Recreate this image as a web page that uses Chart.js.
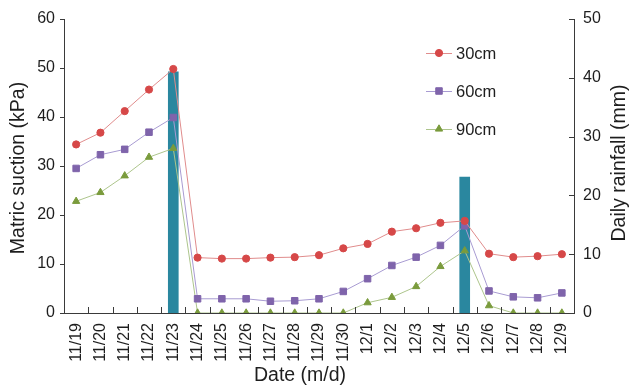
<!DOCTYPE html>
<html>
<head>
<meta charset="utf-8">
<script src="https://cdn.jsdelivr.net/npm/chart.js@4/dist/chart.umd.min.js"></script>
<style>
  html, body { margin: 0; padding: 0; background: #fff; }
  #wrap { width: 633px; height: 387px; position: relative; }
</style>
</head>
<body>
<div id="wrap"><canvas id="c"></canvas></div>
<script>
// Observation dates (month/day)
const dates = ['11/19','11/20','11/21','11/22','11/23','11/24','11/25','11/26','11/27','11/28',
               '11/29','11/30','12/1','12/2','12/3','12/4','12/5','12/6','12/7','12/8','12/9'];

// Matric suction (kPa) at three depths
const suction30 = [34.4, 36.8, 41.2, 45.6, 49.8, 11.3, 11.1, 11.1, 11.3, 11.4, 11.8,
                   13.2, 14.1, 16.6, 17.3, 18.4, 18.8, 12.1, 11.4, 11.6, 12.0];
const suction60 = [29.5, 32.3, 33.4, 36.9, 39.9, 2.9, 2.9, 2.9, 2.4, 2.5, 2.9,
                   4.4, 7.0, 9.7, 11.4, 13.8, 17.8, 4.5, 3.3, 3.1, 4.1];
const suction90 = [22.8, 24.6, 28.0, 31.8, 33.6, 0, 0, 0, 0, 0, 0,
                   0, 2.1, 3.2, 5.4, 9.5, 12.7, 1.5, 0, 0, 0];

// Daily rainfall (mm)
const rainfall = [null, null, null, null, 41.0, null, null, null, null, null, null,
                  null, null, null, null, null, 23.1, null, null, null, null];

// Axis ranges and steps
const suctionAxis = { min: 0, max: 60, step: 10 };
const rainAxis = { min: 0, max: 50, step: 10 };

const FONT = "'Liberation Sans', Arial, sans-serif";
const INK = '#1e1e1e';
const AXIS = '#3a3a3a';

const series = [
  { label: '30cm', data: suction30, line: '#e08c8c', mark: '#d64848', style: 'circle',   r: 3.6 },
  { label: '60cm', data: suction60, line: '#a89bd2', mark: '#7f64ab', style: 'rect',     r: 4.6 },
  { label: '90cm', data: suction90, line: '#adc58c', mark: '#7a9b3c', style: 'triangle', r: 4.2 }
];

// Inward tick marks on all three axes
const tickMarks = {
  id: 'tickMarks',
  afterDatasetsDraw(chart) {
    const { ctx, chartArea: a, scales } = chart;
    ctx.save();
    ctx.strokeStyle = AXIS;
    ctx.lineWidth = 1;
    ctx.beginPath();
    const x = scales.x;
    for (let i = 1; i < dates.length; i++) {
      const px = Math.round((x.getPixelForValue(i - 1) + x.getPixelForValue(i)) / 2) + 0.5;
      ctx.moveTo(px, a.bottom);
      ctx.lineTo(px, a.bottom - 6);
    }
    scales.y.ticks.forEach(t => {
      const py = Math.round(scales.y.getPixelForValue(t.value)) + 0.5;
      ctx.moveTo(a.left - 4, py);
      ctx.lineTo(a.left, py);
    });
    scales.y1.ticks.forEach(t => {
      const py = Math.round(scales.y1.getPixelForValue(t.value)) + 0.5;
      ctx.moveTo(a.right - 5, py);
      ctx.lineTo(a.right, py);
    });
    ctx.stroke();
    ctx.restore();
  }
};

// Axis titles (both vertical titles read bottom-to-top)
const axisTitles = {
  id: 'axisTitles',
  afterDraw(chart) {
    const { ctx, chartArea: a } = chart;
    const midY = (a.top + a.bottom) / 2;
    ctx.save();
    ctx.fillStyle = INK;
    ctx.font = `19.5px ${FONT}`;
    ctx.textAlign = 'center';
    ctx.textBaseline = 'middle';

    ctx.save();
    ctx.translate(a.left - 45, midY + 2);
    ctx.rotate(-Math.PI / 2);
    ctx.fillText('Matric suction (kPa)', 0, 0);
    ctx.restore();

    ctx.save();
    ctx.translate(a.right + 46, midY - 3);
    ctx.rotate(-Math.PI / 2);
    ctx.fillText('Daily rainfall (mm)', 0, 0);
    ctx.restore();

    ctx.fillText('Date (m/d)', (a.left + a.right) / 2 - 19, a.bottom + 63);
    ctx.restore();
  }
};

// Legend for the suction series, placed inside the plot
const insideLegend = {
  id: 'insideLegend',
  afterDraw(chart) {
    const { ctx, chartArea: a } = chart;
    const x0 = a.left + 362, x1 = a.left + 388, mx = a.left + 375;
    ctx.save();
    ctx.font = `16.5px ${FONT}`;
    ctx.textBaseline = 'middle';
    ctx.textAlign = 'left';
    series.forEach((s, i) => {
      const y = a.top + 34 + i * 38;
      ctx.strokeStyle = s.line;
      ctx.lineWidth = 1;
      ctx.beginPath();
      ctx.moveTo(x0, y + 0.5);
      ctx.lineTo(x1, y + 0.5);
      ctx.stroke();
      ctx.fillStyle = s.mark;
      ctx.strokeStyle = s.mark;
      Chart.helpers.drawPoint(ctx, { pointStyle: s.style, radius: s.r, rotation: 0, borderWidth: 1 }, mx, y);
      ctx.fillStyle = INK;
      ctx.fillText(s.label, x1 + 4, y + 1);
    });
    ctx.restore();
  }
};

const datasets = series.map((s, i) => ({
  type: 'line',
  label: s.label,
  data: s.data,
  yAxisID: 'y',
  order: i,
  borderColor: s.line,
  borderWidth: 1,
  pointStyle: s.style,
  pointRadius: s.r,
  pointBackgroundColor: s.mark,
  pointBorderColor: s.mark,
  pointBorderWidth: 1,
  tension: 0
}));

datasets.push({
  type: 'bar',
  label: 'Daily rainfall',
  data: rainfall,
  yAxisID: 'y1',
  order: 10,
  backgroundColor: '#2a879f',
  borderWidth: 0,
  barThickness: 10
});

new Chart(document.getElementById('c'), {
  data: { labels: dates, datasets },
  options: {
    responsive: true,
    maintainAspectRatio: false,
    animation: false,
    layout: { padding: { top: 19, left: 0, right: 0, bottom: 0 } },
    plugins: {
      legend: { display: false },
      tooltip: { enabled: false }
    },
    scales: {
      x: {
        type: 'category',
        offset: true,
        grid: { display: false, drawTicks: false },
        border: { display: true, color: AXIS, width: 1 },
        ticks: {
          autoSkip: false,
          minRotation: 90,
          maxRotation: 90,
          padding: 10,
          color: INK,
          font: { family: FONT, size: 16 }
        },
        afterFit(scale) { scale.height = 74; }
      },
      y: {
        position: 'left',
        min: suctionAxis.min,
        max: suctionAxis.max,
        grid: { display: false, drawTicks: false },
        border: { display: true, color: AXIS, width: 1 },
        ticks: {
          stepSize: suctionAxis.step,
          padding: 9,
          color: INK,
          font: { family: FONT, size: 16 }
        },
        afterFit(scale) { scale.width = 64; }
      },
      y1: {
        position: 'right',
        min: rainAxis.min,
        max: rainAxis.max,
        grid: { display: false, drawTicks: false },
        border: { display: true, color: AXIS, width: 1 },
        ticks: {
          stepSize: rainAxis.step,
          padding: 9,
          color: INK,
          font: { family: FONT, size: 16 }
        },
        afterFit(scale) { scale.width = 59; }
      }
    }
  },
  plugins: [tickMarks, axisTitles, insideLegend]
});
</script>
</body>
</html>
